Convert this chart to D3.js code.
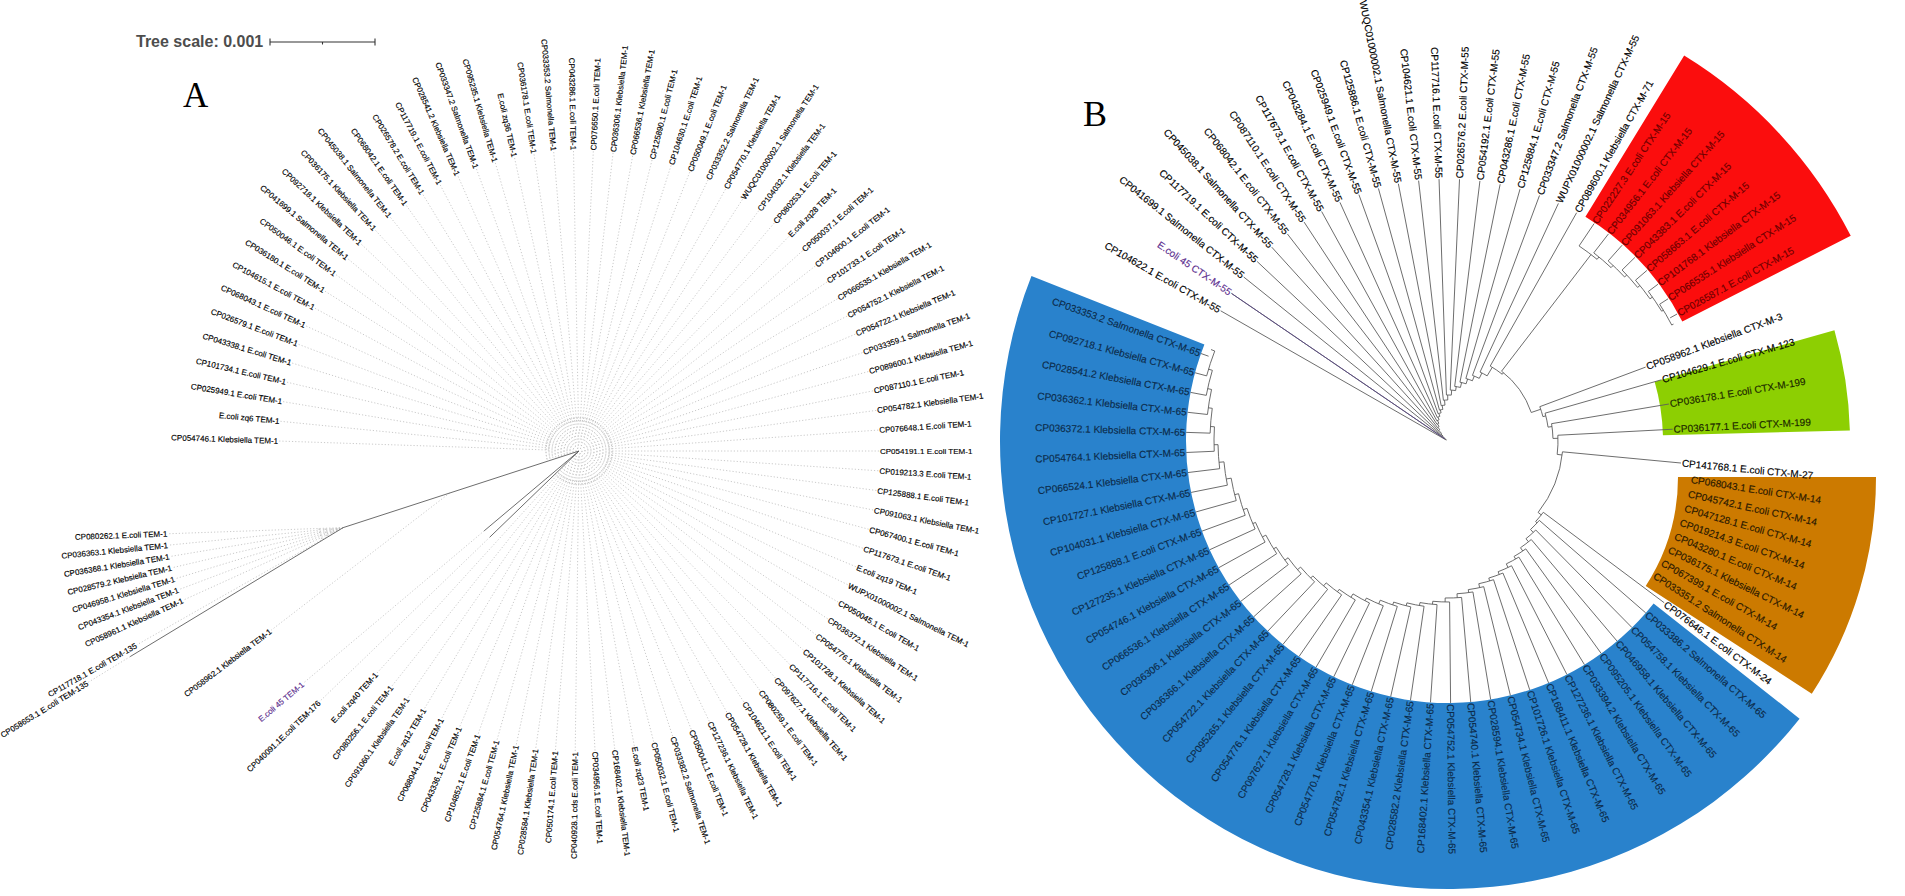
<!DOCTYPE html>
<html>
<head>
<meta charset="utf-8">
<title>TEM and CTX-M trees</title>
<script src="https://cdn.jsdelivr.net/npm/d3@7"></script>
<style>
  html, body { margin: 0; background: #fff; }
  svg { display: block; font-family: "Liberation Sans", Arial, sans-serif; }
  text { stroke-width: 0.15; }
  .dot { stroke: #bdbdbd; stroke-width: 0.8; stroke-dasharray: 1.2 2; fill: none; }
  .solid { stroke: #5c5c5c; stroke-width: 0.9; fill: none; }
</style>
</head>
<body>
<div id="chart"></div>
<script>
const width = 1905;
const height = 896;

// ---- tree A (TEM), clockwise from the east side ----
const temLower = ['CP054191.1 E.coli TEM-1','CP019213.3 E.coli TEM-1','CP125888.1 E.coli TEM-1','CP091063.1 Klebsiella TEM-1','CP067400.1 E.coli TEM-1','CP117673.1 E.coli TEM-1','E.coli zq19 TEM-1','WUPX01000002.1 Salmonella TEM-1','CP050045.1 E.coli TEM-1','CP036372.1 Klebsiella TEM-1','CP054776.1 Klebsiella TEM-1','CP101728.1 Klebsiella TEM-1','CP117716.1 E.coli TEM-1','CP097627.1 Klebsiella TEM-1','CP080259.1 E.coli TEM-1','CP104621.1 E.coli TEM-1','CP054728.1 Klebsiella TEM-1','CP127236.1 Klebsiella TEM-1','CP050041.1 E.coli TEM-1','CP033382.2 Salmonella TEM-1','CP050032.1 E.coli TEM-1','E.coli zq23 TEM-1','CP168402.1 Klebsiella TEM-1','CP034956.1 E.coli TEM-1','CP040928.1 cds E.coli TEM-1','CP050174.1 E.coli TEM-1','CP028584.1 Klebsiella TEM-1','CP054764.1 Klebsiella TEM-1','CP125884.1 E.coli TEM-1','CP104852.1 E.coli TEM-1','CP043336.1 E.coli TEM-1','CP068044.1 E.coli TEM-1','E.coli zq12 TEM-1','CP091060.1 Klebsiella TEM-1','CP080256.1 E.coli TEM-1','E.coli zq40 TEM-1'];
const temUpper = ['CP054746.1 Klebsiella TEM-1','E.coli zq6 TEM-1','CP025949.1 E.coli TEM-1','CP101734.1 E.coli TEM-1','CP043338.1 E.coli TEM-1','CP026579.1 E.coli TEM-1','CP068043.1 E.coli TEM-1','CP104615.1 E.coli TEM-1','CP036180.1 E.coli TEM-1','CP050046.1 E.coli TEM-1','CP041699.1 Salmonella TEM-1','CP092718.1 Klebsiella TEM-1','CP036175.1 Klebsiella TEM-1','CP045038.1 Salmonella TEM-1','CP068042.1 E.coli TEM-1','CP026578.2 E.coli TEM-1','CP117719.1 E.coli TEM-1','CP028541.2 Klebsiella TEM-1','CP033347.2 Salmonella TEM-1','CP095235.1 Klebsiella TEM-1','E.coli zq36 TEM-1','CP036178.1 E.coli TEM-1','CP033353.2 Salmonella TEM-1','CP043286.1 E.coli TEM-1','CP076650.1 E.coli TEM-1','CP036306.1 Klebsiella TEM-1','CP066536.1 Klebsiella TEM-1','CP125890.1 E.coli TEM-1','CP104630.1 E.coli TEM-1','CP050049.1 E.coli TEM-1','CP033352.2 Salmonella TEM-1','CP054770.1 Klebsiella TEM-1','WUQC01000002.1 Salmonella TEM-1','CP104032.1 Klebsiella TEM-1','CP080253.1 E.coli TEM-1','E.coli zq28 TEM-1','CP050037.1 E.coli TEM-1','CP104600.1 E.coli TEM-1','CP101733.1 E.coli TEM-1','CP066535.1 Klebsiella TEM-1','CP054752.1 Klebsiella TEM-1','CP054722.1 Klebsiella TEM-1','CP033359.1 Salmonella TEM-1','CP089600.1 Klebsiella TEM-1','CP087110.1 E.coli TEM-1','CP054782.1 Klebsiella TEM-1','CP076648.1 E.coli TEM-1'];
const temClade = ['CP058961.1 Klebsiella TEM-1','CP043354.1 Klebsiella TEM-1','CP046958.1 Klebsiella TEM-1','CP028579.2 Klebsiella TEM-1','CP036368.1 Klebsiella TEM-1','CP036363.1 Klebsiella TEM-1','CP080262.1 E.coli TEM-1'];
const temFar = ['CP040091.1E.coli TEM-176', 'E.coli 45 TEM-1'];
const temFarAngle = [136, 139.9];

// ring depths and long branches of tree A, in degrees and picture units
const temRings = [3, 6, 9, 12, 15, 18, 21, 24, 27, 30, 33];
const temCladeRings = [6, 12, 18, 24];
const temBranch = { angle: 162, length: 248 };
const tem135Branch = { angle: 148.8, length: 249 };

// ---- tree B (CTX-M) ----
const ctx55 = ['CP104622.1 E.coli CTX-M-55','E.coli 45 CTX-M-55','CP041699.1 Salmonella CTX-M-55','CP117719.1 E.coli CTX-M-55','CP045038.1 Salmonella CTX-M-55','CP068042.1 E.coli CTX-M-55','CP087110.1 E.coli CTX-M-55','CP117673.1 E.coli CTX-M-55','CP043284.1 E.coli CTX-M-55','CP025949.1 E.coli CTX-M-55','CP125886.1 E.coli CTX-M-55','WUQC01000002.1 Salmonella CTX-M-55','CP104621.1 E.coli CTX-M-55','CP117716.1 E.coli CTX-M-55','CP026576.2 E.coli CTX-M-55','CP054192.1 E.coli CTX-M-55','CP043286.1 E.coli CTX-M-55','CP125884.1 E.coli CTX-M-55','CP033347.2 Salmonella CTX-M-55','WUPX01000002.1 Salmonella CTX-M-55','CP089600.1 Klebsiella CTX-M-71'];
const ctx55Depth = [2, 4, 7, 10, 14, 17, 20, 23, 26, 29, 32, 36, 41, 46, 51, 55, 60, 65, 70, 76, 86];

const ctx15 = ['CP022227.3 E.coli CTX-M-15','CP034956.1 E.coli CTX-M-15','CP091063.1 Klebsiella CTX-M-15','CP043383.1 E.coli CTX-M-15','CP058663.1 E.coli CTX-M-15','CP101768.1 Klebsiella CTX-M-15','CP066535.1 Klebsiella CTX-M-15','CP026587.1 E.coli CTX-M-15'];
const ctx15Depth = [235, 238, 241, 244, 247, 250, 252, 254];

const ctxOthers = ['CP058962.1 Klebsiella CTX-M-3','CP104629.1 E.coli CTX-M-123','CP036178.1 E.coli CTX-M-199','CP036177.1 E.coli CTX-M-199','CP141768.1 E.coli CTX-M-27'];
const ctxOthersAngle = [339.5, 344, 350.5, 357, 365.4];
const ctxOthersDepth = [98, 101, 105, 110, 115];
const ctxOthersTip = [211, 222, 224, 225, 234];

const ctx14 = ['CP068043.1 E.coli CTX-M-14','CP045742.1 E.coli CTX-M-14','CP047128.1 E.coli CTX-M-14','CP019214.3 E.coli CTX-M-14','CP043280.1 E.coli CTX-M-14','CP036175.1 Klebsiella CTX-M-14','CP067399.1 E.coli CTX-M-14','CP033351.2 Salmonella CTX-M-14'];

const ctx24 = ['CP076646.1 E.coli CTX-M-24'];

const ctx65 = ['CP033386.2 Salmonella CTX-M-65','CP054758.1 Klebsiella CTX-M-65','CP046958.1 Klebsiella CTX-M-65','CP095205.1 Klebsiella CTX-M-65','CP033394.2 Klebsiella CTX-M-65','CP127236.1 Klebsiella CTX-M-65','CP168411.1 Klebsiella CTX-M-65','CP101726.1 Klebsiella CTX-M-65','CP054734.1 Klebsiella CTX-M-65','CP028594.1 Klebsiella CTX-M-65','CP054740.1 Klebsiella CTX-M-65','CP054752.1 Klebsiella CTX-M-65','CP168402.1 Klebsiella CTX-M-65','CP028582.2 Klebsiella CTX-M-65','CP043354.1 Klebsiella CTX-M-65','CP054782.1 Klebsiella CTX-M-65','CP054770.1 Klebsiella CTX-M-65','CP054728.1 Klebsiella CTX-M-65','CP097627.1 Klebsiella CTX-M-65','CP054776.1 Klebsiella CTX-M-65','CP095265.1 Klebsiella CTX-M-65','CP054722.1 Klebsiella CTX-M-65','CP036366.1 Klebsiella CTX-M-65','CP036306.1 Klebsiella CTX-M-65','CP066536.1 Klebsiella CTX-M-65','CP054746.1 Klebsiella CTX-M-65','CP127235.1 Klebsiella CTX-M-65','CP125888.1 E.coli CTX-M-65','CP104031.1 Klebsiella CTX-M-65','CP101727.1 Klebsiella CTX-M-65','CP066524.1 Klebsiella CTX-M-65','CP054764.1 Klebsiella CTX-M-65','CP036372.1 Klebsiella CTX-M-65','CP036362.1 Klebsiella CTX-M-65','CP028541.2 Klebsiella CTX-M-65','CP092718.1 Klebsiella CTX-M-65','CP033353.2 Salmonella CTX-M-65'];
const ctx65Depth = [121, 125, 129, 133, 136, 140, 143, 146, 150, 153, 157, 161, 164, 167, 170, 173, 177, 180, 184, 187, 191, 194, 198, 202, 205, 209, 212, 216, 220, 225, 230, 234, 238, 242, 246, 250, 254];

// coloured wedges
const wedgeNames = ['red', 'green', 'brown', 'blue'];
const wedgeFrom = [301.5, 344, 0, 38.3];
const wedgeTo = [333, 358.5, 33, 201.6];
const wedgeInner = [263, 215, 200, 262];
const wedgeOuter = [452, 402, 398, 448];
const wedgeColors = ['#fb0d0d', '#8dcf02', '#cc7a00', '#2982cc'];

const purple = '#5b2d8e';

const rad = (d) => d * Math.PI / 180;
const polar = (c, deg, r) => [c[0] + r * Math.cos(rad(deg)), c[1] + r * Math.sin(rad(deg))];

const svg = d3.select('#chart').append('svg')
  .attr('width', width)
  .attr('height', height)
  .attr('viewBox', `0 0 ${width} ${height}`);

// Draws one leaf label next to its tip, flipped on the west side so it stays readable
function drawLabels(g, leaves, size, fill) {
  const color = (d) => d.name.startsWith('E.coli 45') ? purple : (d.fill || fill);
  g.selectAll(null)
    .data(leaves)
    .join('text')
    .attr('transform', (d) => {
      const flip = Math.cos(rad(d.dir)) < 0;
      return `translate(${d.tip[0]},${d.tip[1]}) rotate(${flip ? d.dir + 180 : d.dir})`;
    })
    .attr('text-anchor', (d) => Math.cos(rad(d.dir)) < 0 ? 'end' : 'start')
    .attr('dx', (d) => Math.cos(rad(d.dir)) < 0 ? -1 : 1)
    .attr('dy', '0.35em')
    .attr('font-size', size)
    .attr('fill', color)
    .attr('stroke', color)
    .text((d) => d.name);
}

function drawRings(g, c, radii, from, to) {
  const arc = d3.arc();
  g.selectAll(null)
    .data(radii)
    .join('path')
    .attr('class', 'dot')
    .attr('transform', `translate(${c[0]},${c[1]})`)
    .attr('d', (r) => arc({
      innerRadius: r, outerRadius: r,
      startAngle: rad(from + 90), endAngle: rad(to + 90)
    }));
}

// ---- tree A ----
function drawTreeA() {
  const root = [579, 451];
  const tipR = 300;
  const g = svg.append('g').attr('class', 'tree-a');

  const lowerAngle = d3.scalePoint().domain(temLower).range([0, 132.3]);
  const upperAngle = d3.scalePoint().domain(temUpper).range([181.9, 356]);
  const cladeAngle = d3.scalePoint().domain(temClade).range([155.6, 178]);

  const node = polar(root, temBranch.angle, temBranch.length);
  const node135 = polar(node, tem135Branch.angle, tem135Branch.length);

  let leaves = [];
  temLower.forEach((name) => {
    const a = lowerAngle(name);
    leaves.push({ name, from: polar(root, a, 30), tip: polar(root, a, tipR), dir: a });
  });
  temUpper.forEach((name) => {
    const a = upperAngle(name);
    leaves.push({ name, from: polar(root, a, 30), tip: polar(root, a, tipR), dir: a });
  });
  temClade.forEach((name) => {
    const a = cladeAngle(name);
    leaves.push({ name, from: node, tip: polar(node, a, 175), dir: a });
  });
  temFar.forEach((name, i) => {
    const a = temFarAngle[i];
    leaves.push({ name, from: polar(root, a, 124), tip: polar(root, a, 360), dir: a });
  });
  leaves.push({ name: 'CP058962.1 Klebsiella TEM-1', from: polar(root, temBranch.angle, 136), tip: polar(root, 149.8, 356), dir: 143 });
  leaves.push({ name: 'CP117718.1 E.coli TEM-135', from: node, tip: polar(node, 150.4, 237), dir: 150.4 });
  leaves.push({ name: 'CP058653.1 E.coli TEM-135', from: node135, tip: polar(node135, 148.5, 49), dir: 148.5 });

  g.selectAll('line.leaf')
    .data(leaves)
    .join('line')
    .attr('class', 'dot')
    .attr('x1', (d) => d.from[0])
    .attr('y1', (d) => d.from[1])
    .attr('x2', (d) => d.tip[0])
    .attr('y2', (d) => d.tip[1]);

  drawRings(g, root, temRings, 165, 495);
  drawRings(g, node, temCladeRings, 152, 180);

  const solids = [
    [root, node], [node, node135],
    ...temFarAngle.map((a) => [root, polar(root, a, 124)])
  ];
  g.selectAll('line.branch')
    .data(solids)
    .join('line')
    .attr('class', 'solid')
    .attr('x1', (d) => d[0][0])
    .attr('y1', (d) => d[0][1])
    .attr('x2', (d) => d[1][0])
    .attr('y2', (d) => d[1][1]);

  drawLabels(g, leaves, 8, '#000');

  // tree scale bar
  const barX = d3.scaleLinear().domain([0, 0.001]).range([270, 375]);
  const bar = svg.append('g').attr('class', 'scale-bar');
  bar.append('text')
    .attr('x', 136).attr('y', 47)
    .attr('font-size', 16).attr('font-weight', 'bold').attr('fill', '#4d4d4d')
    .text('Tree scale: 0.001');
  bar.append('line')
    .attr('class', 'solid').style('stroke', '#333').style('stroke-width', 1.2)
    .attr('x1', barX(0)).attr('x2', barX(0.001)).attr('y1', 42).attr('y2', 42);
  bar.selectAll('line.tick')
    .data([0, 0.0005, 0.001])
    .join('line')
    .attr('class', 'solid').style('stroke', '#333').style('stroke-width', 1.1)
    .attr('x1', barX).attr('x2', barX)
    .attr('y1', (d) => d === 0.0005 ? 42 : 38.5)
    .attr('y2', (d) => d === 0.0005 ? 44.5 : 45.5);

  svg.append('text')
    .attr('x', 183).attr('y', 107)
    .attr('font-family', '"Liberation Serif", serif').attr('font-size', 35)
    .text('A');
}

// Staircase of one ladder-like clade: each leaf leaves its own arc, each arc hands on to the next
function ladderPath(c, nodes, scaleR) {
  const p = d3.path();
  nodes.forEach((n, i) => {
    const a = polar(c, n.angle, scaleR(n.depth));
    const b = polar(c, n.angle, scaleR(n.tipDepth));
    p.moveTo(a[0], a[1]);
    p.lineTo(b[0], b[1]);
    const next = nodes[i + 1];
    if (!next) return;
    const end = next.angle + 1.6;
    p.moveTo(a[0], a[1]);
    p.arc(c[0], c[1], scaleR(n.depth), rad(n.angle), rad(end));
    const u = polar(c, end, scaleR(next.depth));
    p.lineTo(u[0], u[1]);
  });
  return p.toString();
}

// ---- tree B ----
function drawTreeB() {
  const root = [1448, 441];
  const brownCenter = [1478, 477];
  const tipDepth = 262;
  const depth = d3.scaleLinear().domain([0, tipDepth]).range([0, tipDepth]);
  const g = svg.append('g').attr('class', 'tree-b');

  const arc = d3.arc();
  g.selectAll('path.wedge')
    .data(wedgeNames)
    .join('path')
    .attr('class', 'wedge')
    .attr('transform', (d) => {
      const c = d === 'brown' ? brownCenter : root;
      return `translate(${c[0]},${c[1]})`;
    })
    .attr('fill', (d, i) => wedgeColors[i])
    .attr('d', (d, i) => arc({
      innerRadius: depth(wedgeInner[i]),
      outerRadius: depth(wedgeOuter[i]),
      startAngle: rad(wedgeFrom[i] + 90),
      endAngle: rad(wedgeTo[i] + 90)
    }));

  const a55 = d3.scalePoint().domain(ctx55).range([209.8, 299.4]);
  const a15 = d3.scalePoint().domain(ctx15).range([303.9, 331]);
  const a14 = d3.scalePoint().domain(ctx14).range([9, 33]);
  const a65 = d3.scalePoint().domain(ctx65).range([41, 199.5]);

  const nodes55 = ctx55.map((name, i) => ({ name, angle: a55(name), depth: ctx55Depth[i], tipDepth }));
  const stem15 = { angle: 307.5, depth: 88, tipDepth: ctx15Depth[0] };
  const nodesOthers = ctxOthers.map((name, i) => ({ name, angle: ctxOthersAngle[i], depth: ctxOthersDepth[i], tipDepth: ctxOthersTip[i] }));
  const node24 = { name: ctx24[0], angle: 396.8, depth: 119, tipDepth: 270 };
  const nodes65 = ctx65.map((name, i) => ({ name, angle: a65(name) + 360, depth: ctx65Depth[i], tipDepth, fill: '#0c2b4a' }));
  const nodes15 = ctx15.map((name, i) => ({ name, angle: a15(name), depth: ctx15Depth[i], tipDepth, fill: '#6d0000' }));

  nodesOthers[2].fill = '#1a2600';
  nodesOthers[3].fill = '#1a2600';

  const main = [...nodes55, stem15, ...nodesOthers, node24, ...nodes65];

  g.append('path').attr('class', 'solid').attr('d', ladderPath(root, main, depth));
  g.append('path').attr('class', 'solid').attr('d', ladderPath(root, nodes15, depth));

  // isolate 45 has a tinted branch
  const n45 = nodes55[1];
  const p45 = [polar(root, n45.angle, depth(n45.depth)), polar(root, n45.angle, depth(n45.tipDepth))];
  g.append('line').attr('class', 'solid').style('stroke', '#5a4a86')
    .attr('x1', p45[0][0]).attr('y1', p45[0][1]).attr('x2', p45[1][0]).attr('y2', p45[1][1]);

  const toLeaf = (n) => ({ name: n.name, dir: n.angle, tip: polar(root, n.angle, depth(n.tipDepth)), fill: n.fill });
  const leaves14 = ctx14.map((name) => ({ name, dir: a14(name), tip: polar(root, a14(name), 245), fill: '#2a1900' }));
  const labelled = [...nodes55, ...nodes15, ...nodesOthers, node24, ...nodes65].map(toLeaf).concat(leaves14);
  drawLabels(g, labelled, 10, '#000');

  svg.append('text')
    .attr('x', 1083).attr('y', 126)
    .attr('font-family', '"Liberation Serif", serif').attr('font-size', 36)
    .text('B');
}

drawTreeA();
drawTreeB();
</script>
</body>
</html>
